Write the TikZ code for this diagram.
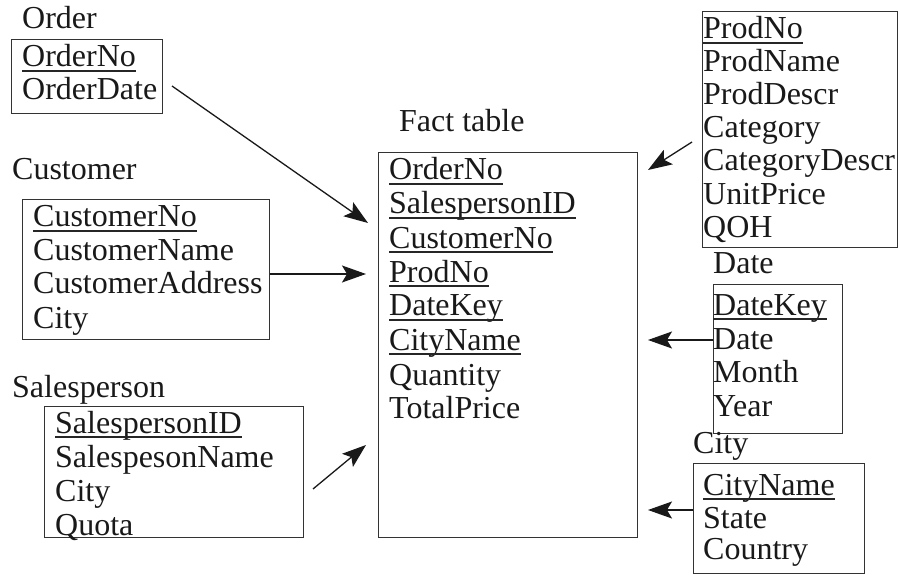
\documentclass[tikz,border=0pt]{standalone}
\usepackage{fontspec}
\setmainfont{Liberation Serif}
\usetikzlibrary{arrows.meta}
\newcommand\keyline[1]{\draw[keyrule] ([yshift=-4pt]#1.base west) -- ([yshift=-4pt]#1.base east);}
\begin{document}
\begin{tikzpicture}[x=1pt,y=-1pt,
  every node/.style={font=\fontsize{32}{34}\selectfont, inner sep=0pt, anchor=base west, text=black!90},
  tbl/.style={draw=black!80, line width=1.4pt, anchor=north west, minimum width=#1},
  keyrule/.style={draw=black!85, line width=1.2pt},
  fk/.style={draw=black!90, line width=1.3pt, -{Stealth[length=24pt,width=17pt,inset=5pt]}}]
\useasboundingbox (0,0) rectangle (898,575);

% ---------- Order ----------
\node (ordT) at (22,29) {Order};
\node[tbl=151pt, minimum height=74pt] (ordB) at (11,39) {};
\node (ord1) at (22,67) {OrderNo};
\node (ord2) at (22,100) {OrderDate};
\keyline{ord1}

% ---------- Customer ----------
\node (cusT) at (12,180) {Customer};
\node[tbl=247pt, minimum height=140pt] (cusB) at (22,199) {};
\node (cus1) at (33,227) {CustomerNo};
\node (cus2) at (33,261) {CustomerName};
\node (cus3) at (33,294) {CustomerAddress};
\node (cus4) at (33,328) {City};
\keyline{cus1}

% ---------- Salesperson ----------
\node (salT) at (12,397) {Salesperson};
\node[tbl=259pt, minimum height=131pt] (salB) at (44,406) {};
\node (sal1) at (55,433) {SalespersonID};
\node (sal2) at (55,467) {SalespesonName};
\node (sal3) at (55,501) {City};
\node (sal4) at (55,535) {Quota};
\keyline{sal1}

% ---------- Fact table ----------
\node (facT) at (399,132) {Fact table};
\node[tbl=259pt, minimum height=385pt] (facB) at (378,152) {};
\node (fac1) at (389,180) {OrderNo};
\node (fac2) at (389,214) {SalespersonID};
\node (fac3) at (389,248) {CustomerNo};
\node (fac4) at (389,282) {ProdNo};
\node (fac5) at (389,316) {DateKey};
\node (fac6) at (389,350) {CityName};
\node (fac7) at (389,385) {Quantity};
\node (fac8) at (389,418) {TotalPrice};
\foreach \r in {fac1,fac2,fac3,fac4,fac5,fac6} {\keyline{\r}}

% ---------- Product ----------
\node[tbl=195pt, minimum height=236pt] (proB) at (702,11) {};
\node (pro1) at (703,39) {ProdNo};
\node (pro2) at (703,72) {ProdName};
\node (pro3) at (703,105) {ProdDescr};
\node (pro4) at (703,138) {Category};
\node (pro5) at (703,171) {CategoryDescr};
\node (pro6) at (703,205) {UnitPrice};
\node (pro7) at (703,238) {QOH};
\keyline{pro1}

% ---------- Date ----------
\node (datT) at (713,273) {Date};
\node[tbl=129pt, minimum height=149pt] (datB) at (713,284) {};
\node (dat1) at (713,315) {DateKey};
\node (dat2) at (713,349) {Date};
\node (dat3) at (713,382) {Month};
\node (dat4) at (713,416) {Year};
\keyline{dat1}

% ---------- City ----------
\node (citT) at (693,453) {City};
\node[tbl=171pt, minimum height=110pt] (citB) at (693,463) {};
\node (cit1) at (703,495) {CityName};
\node (cit2) at (703,528) {State};
\node (cit3) at (703,559) {Country};
\keyline{cit1}

% ---------- connectors into the fact table ----------
\coordinate (ordTail) at (172,86);
\coordinate (ordHead) at (368,223);
\coordinate (cusHead) at (366,274);
\coordinate (salTail) at (313,489);
\coordinate (salHead) at (366,445);
\coordinate (proTail) at (692,142);
\coordinate (proHead) at (648,170);
\coordinate (datHead) at (648,340);
\coordinate (citHead) at (648,510);

\draw[fk] (ordTail) -- (ordHead);
\draw[fk] (cusB.east |- cusHead) -- (cusHead);
\draw[fk] (salTail) -- (salHead);
\draw[fk] (proTail) -- (proHead);
\draw[fk] (datB.west |- datHead) -- (datHead);
\draw[fk] (citB.west |- citHead) -- (citHead);
\end{tikzpicture}
\end{document}
